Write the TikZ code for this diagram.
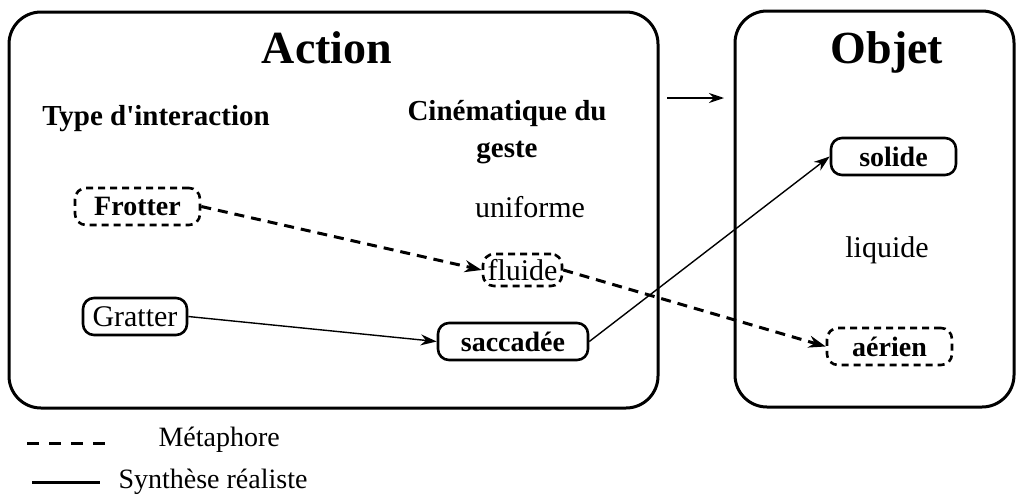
\documentclass[tikz,border=0pt]{standalone}
\usepackage{fontspec}
\setmainfont{Liberation Serif}
\usetikzlibrary{arrows.meta}
\begin{document}
\begin{tikzpicture}[x=1pt,y=-1pt,
  bigbox/.style={draw,line width=3pt,rounded corners=32pt,inner sep=0pt},
  title/.style={font=\fontsize{46}{52}\selectfont\bfseries},
  lab/.style={font=\fontsize{28}{32}\selectfont\bfseries},
  head/.style={font=\fontsize{29}{37}\selectfont\bfseries},
  plain/.style={font=\fontsize{30}{34}\selectfont},
  legtext/.style={font=\fontsize{28}{32}\selectfont},
  nbox/.style={draw,line width=2.6pt,rounded corners=11pt,minimum height=37pt,inner sep=0pt},
  dbox/.style={nbox,dash pattern=on 7pt off 5pt},
  realarrow/.style={line width=1.4pt,-{Stealth[length=16pt,width=11pt]}},
  metarrow/.style={line width=3pt,dash pattern=on 10pt off 7pt,-{Stealth[length=17pt,width=12pt]}}]
\useasboundingbox (0,0) rectangle (1022,501);
% big frames
\node[bigbox,minimum width=649pt,minimum height=396pt] (action) at (333.5,210) {};
\node[bigbox,minimum width=279pt,minimum height=396pt] (objet) at (874.5,209) {};
\node[title,anchor=base] (tact) at (327,63) {Action};
\node[title,anchor=base] (tobj) at (887,63) {Objet};
% arrow between frames
\coordinate (a1) at (667,98);
\coordinate (a2) at (724,98);
\draw[line width=1.5pt,-{Stealth[length=15pt,width=10pt]}] (a1) -- (a2);
% headings
\node[head,anchor=base] (type) at (156,125) {Type d\textquotesingle interaction};
\node[head,anchor=base,align=center] (cine) at (507,157) {Cinématique du\\geste};
% nodes
\node[dbox,lab,minimum width=125pt] (frotter) at (137.5,206.5) {Frotter};
\node[plain,anchor=base] (uniforme) at (530,217) {uniforme};
\node[dbox,plain,minimum width=79pt,minimum height=32pt] (fluide) at (522.5,270) {fluide};
\node[nbox,plain,minimum width=104pt] (gratter) at (135,316.5) {Gratter};
\node[nbox,lab,minimum width=150pt] (saccadee) at (513,341.5) {saccadée};
\node[nbox,lab,minimum width=125pt] (solide) at (893.5,156.5) {solide};
\node[plain] (liquide) at (887,250) {liquide};
\node[dbox,lab,minimum width=125pt] (aerien) at (889.5,346.5) {aérien};
% connectors
\draw[metarrow] (frotter.east) -- (fluide.west);
\draw[metarrow] (fluide.east) -- (aerien.west);
\draw[realarrow] (gratter.east) -- (saccadee.west);
\draw[realarrow] (saccadee.east) -- (solide.west);
% legend
\coordinate (m1) at (27,443);
\coordinate (m2) at (107,443);
\draw[line width=3pt,dash pattern=on 12pt off 10pt] (m1) -- (m2);
\node[legtext,anchor=west] (meta) at (155,440) {Métaphore};
\coordinate (s1) at (32,482);
\coordinate (s2) at (100,482);
\draw[line width=3pt] (s1) -- (s2);
\node[legtext,anchor=west] (synth) at (115,482) {Synthèse réaliste};
\end{tikzpicture}
\end{document}
